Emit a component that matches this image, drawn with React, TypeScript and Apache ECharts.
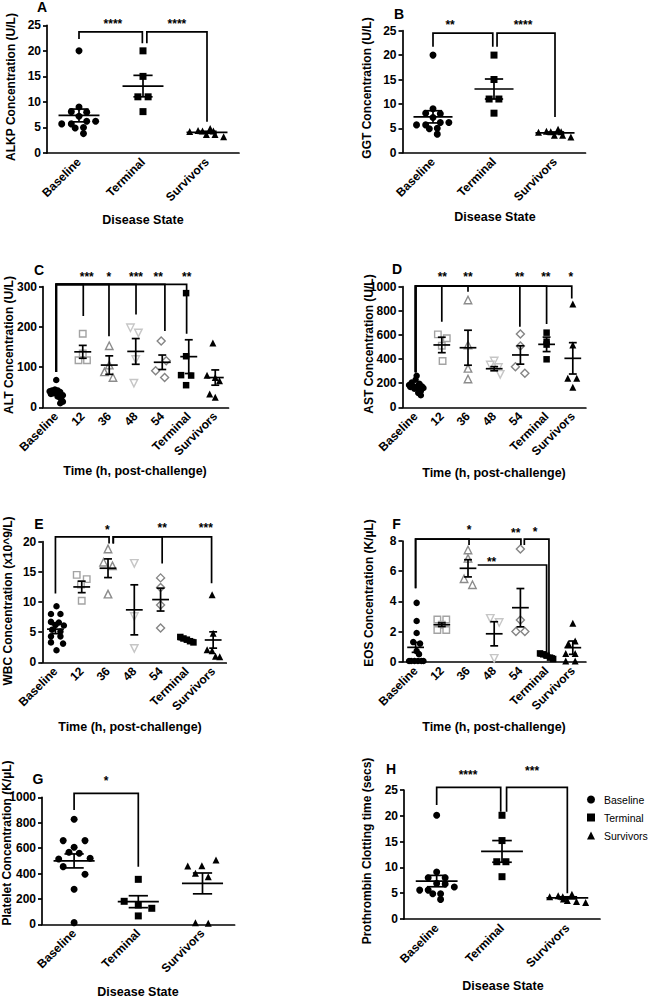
import React, { useEffect, useRef } from "react";
import * as echarts from "echarts";

type Pt = [number, number];
type Star = [number, number, string];

const FONT = "'Liberation Sans', Arial, Helvetica, sans-serif";

// ---------- categories ----------
const stateCats = ["Baseline", "Terminal", "Survivors"];
const timeCats = ["Baseline", "12", "36", "48", "54", "Terminal", "Survivors"];

// ---------- A: ALKP (U/L) ----------  points: [jitter offset, value]
const alkpBaseline: Pt[] = [[0, 20], [0, 9.0], [-0.12, 8.1], [0.12, 8.0], [0, 7.2], [-0.27, 5.7], [-0.12, 5.7], [0.12, 6.2], [0.26, 6.2], [-0.06, 4.9], [0.07, 5.0], [0.07, 3.8]];
const alkpTerminal: Pt[] = [[0, 20], [0, 15], [-0.08, 11], [0.08, 11], [0, 8.1]];
const alkpSurvivors: Pt[] = [[-0.27, 4.2], [-0.14, 4.4], [-0.07, 4.3], [0.05, 4.8], [-0.01, 3.6], [0.125, 3.6], [0.26, 3.2], [0.1, 4.3]];
const alkpMean = [7.35, 13.1, 4.05];
const alkpSem = [1.25, 2.1, 0.2];
const alkpBrackets = [[0, 0.99, 23.7, 22.3, 21.5], [1.06, 2, 23.7, 21.5, 6.1]];
const alkpStars: Star[] = [[0.53, 25.8, "****"], [1.53, 25.8, "****"]];

// ---------- B: GGT (U/L) ----------
const ggtBaseline: Pt[] = [[0, 20], [0, 9.0], [-0.12, 8.1], [0.12, 8.0], [0, 7.2], [-0.27, 5.7], [-0.12, 5.7], [0.12, 6.2], [0.26, 6.2], [-0.06, 4.9], [0.07, 5.0], [0.07, 3.8]];
const ggtTerminal: Pt[] = [[0, 20], [0, 15], [-0.08, 11], [0.08, 11], [0, 8.1]];
const ggtSurvivors: Pt[] = [[-0.27, 4.2], [-0.14, 4.4], [-0.07, 4.3], [0.05, 4.8], [-0.01, 3.6], [0.125, 3.6], [0.26, 3.2], [0.1, 4.3]];
const ggtMean = [7.35, 13.05, 4.05];
const ggtSem = [1.25, 2.05, 0.2];
const ggtBrackets = [[0, 0.98, 24.5, 21.7, 21.7], [1.05, 2, 24.5, 21.7, 7.3]];
const ggtStars: Star[] = [[0.28, 26.8, "**"], [1.475, 26.8, "****"]];

// ---------- C: ALT (U/L) ----------
const altBaseline: Pt[] = [[0, 68], [-0.25, 40], [-0.15, 42], [-0.05, 44], [0.05, 42], [0.15, 38], [-0.2, 33], [-0.1, 35], [0, 36], [0.1, 33], [0.25, 30], [0.05, 27], [0.15, 24], [0.2, 18], [0.25, 14], [0.15, 10]];
const alt12: Pt[] = [[0, 183], [-0.16, 117], [0.16, 117], [0, 134]];
const alt36: Pt[] = [[0, 153], [-0.18, 88], [0.14, 74], [0, 105]];
const alt48: Pt[] = [[-0.2, 198], [0.1, 185], [0, 119], [-0.07, 60]];
const alt54: Pt[] = [[-0.04, 165], [0.15, 116], [-0.25, 91], [0.09, 74]];
const altTerminal: Pt[] = [[-0.1, 284], [-0.1, 127], [-0.29, 80], [0.09, 79], [-0.1, 55]];
const altSurvivors: Pt[] = [[-0.09, 160], [-0.31, 80], [0, 74], [0.16, 66], [-0.21, 33], [0, 25]];
const altMean = [34, 138, 105, 139, 112, 126, 74];
const altSem = [3.5, 16, 23, 32, 18, 42, 19];
const altBrackets = [[0, 1.02, 306, 88, 227], [0, 1.99, 306, 88, 177], [0, 3.01, 306, 88, 231], [0, 4.1, 306, 88, 190], [0, 4.92, 306, 88, 183]];
const altStars: Star[] = [[1.15, 332, "***"], [1.98, 332, "*"], [3.01, 332, "***"], [3.85, 332, "**"], [4.92, 332, "**"]];

// ---------- D: AST (U/L) ----------
const astBaseline: Pt[] = [[0.04, 262], [0, 228], [-0.15, 205], [0.15, 195], [-0.25, 185], [0.1, 182], [-0.1, 176], [0.25, 172], [-0.2, 168], [0.05, 165], [0.3, 160], [-0.05, 155], [0.15, 148], [0.2, 135], [0.1, 120], [0.2, 100]];
const ast12: Pt[] = [[-0.15, 605], [0.19, 572], [0.03, 384], [0, 510]];
const ast36: Pt[] = [[0, 890], [0, 517], [0, 323], [0, 235]];
const ast48: Pt[] = [[0, 384], [-0.15, 351], [0.16, 330], [0.23, 273]];
const ast54: Pt[] = [[0, 608], [0, 508], [-0.19, 337], [0.17, 282]];
const astTerminal: Pt[] = [[0, 619], [0, 544], [0, 520], [0, 398]];
const astSurvivors: Pt[] = [[0, 856], [0, 517], [-0.19, 240], [0.15, 240], [0, 166]];
const astMean = [172, 517, 494, 320, 434, 522, 406];
const astSem = [12, 64, 145, 17, 76, 60, 130];
const astBrackets = [[0, 1.0, 1005, 290, 710], [0, 2.0, 1005, 290, 958], [0, 3.98, 1005, 290, 668], [0, 5.0, 1005, 290, 690], [0, 5.96, 1005, 290, 903]];
const astStars: Star[] = [[1.02, 1105, "**"], [2.0, 1105, "**"], [3.97, 1105, "**"], [4.97, 1105, "**"], [5.92, 1105, "*"]];

// ---------- E: WBC (x10^9/L) ----------
const wbcBaseline: Pt[] = [[0.04, 9.3], [-0.17, 8.0], [0.19, 8.0], [-0.17, 6.7], [0.13, 6.6], [0, 6.2], [0.32, 6.1], [-0.13, 5.4], [0.19, 5.1], [-0.17, 4.3], [0.19, 4.3], [-0.17, 3.3], [0.29, 3.1], [0.04, 2.0]];
const wbc12: Pt[] = [[-0.19, 14.5], [0.19, 13.8], [-0.03, 12.9], [0, 10.2]];
const wbc36: Pt[] = [[0, 18.8], [-0.17, 16.6], [0.17, 16.0], [0, 11.3]];
const wbc48: Pt[] = [[0, 16.4], [0, 7.6], [0, 2.3]];
const wbc54: Pt[] = [[0, 14.0], [0, 12.4], [0, 9.5], [0, 5.7]];
const wbcTerminal: Pt[] = [[-0.25, 4.2], [-0.13, 3.95], [0, 3.75], [0.12, 3.5], [0.25, 3.3]];
const wbcSurvivors: Pt[] = [[-0.04, 11.2], [0, 4.8], [-0.23, 2.1], [-0.04, 1.9], [0.09, 1.0], [0.25, 0.9]];
const wbcMean = [5.5, 12.5, 15.6, 8.7, 10.4, 3.75, 3.7];
const wbcSem = [0.75, 0.95, 1.55, 4.15, 1.9, 0.12, 1.35];
const wbcBrackets = [[0, 2.04, 20.8, 11.4, 19.7], [2.2, 4.06, 20.8, 19.7, 16.4], [2.2, 5.94, 20.8, 19.7, 13.1]];
const wbcStars: Star[] = [[1.97, 22.5, "*"], [4.06, 22.8, "**"], [5.72, 22.8, "***"]];

// ---------- F: EOS (K/µL) ----------
const eosBaseline: Pt[] = [[0.04, 3.9], [0.04, 2.7], [0.04, 1.9], [-0.09, 1.3], [0.17, 1.2], [0.04, 0.7], [0.13, 0.5], [-0.25, 0.05], [-0.17, 0.05], [-0.04, 0.05], [0.09, 0.05], [0.22, 0.05], [0.3, 0.05]];
const eos12: Pt[] = [[-0.17, 2.8], [0.17, 2.8], [0, 2.45], [-0.17, 2.1], [0.17, 2.1]];
const eos36: Pt[] = [[0, 7.4], [0, 6.85], [-0.15, 5.5], [0.17, 5.1]];
const eos48: Pt[] = [[-0.15, 2.87], [0.19, 2.6], [0, 0.22]];
const eos54: Pt[] = [[0, 7.47], [0, 2.76], [-0.17, 2.0], [0.17, 2.0]];
const eosTerminal: Pt[] = [[-0.25, 0.55], [-0.13, 0.49], [0, 0.4], [0.13, 0.27], [0.25, 0.18]];
const eosSurvivors: Pt[] = [[0, 2.55], [0.09, 1.37], [-0.17, 1.2], [-0.27, 0.55], [0.09, 0.55], [-0.27, 0.05], [0.09, 0.05]];
const eosMean = [0.95, 2.45, 6.19, 1.85, 3.58, 0.38, 0.93];
const eosSem = [0.33, 0.12, 0.57, 0.8, 1.27, 0.06, 0.44];
const eosBrackets = [[0, 2.04, 8.13, 4.86, 7.73], [0, 4.02, 8.13, 4.86, 7.73], [4.15, 5.09, 8.13, 7.73, 0.27], [2.37, 5.0, 6.41, 6.41, 0.27]];
const eosStars: Star[] = [[2.04, 8.95, "*"], [3.82, 8.73, "**"], [4.56, 8.78, "*"], [2.9, 6.81, "**"]];

// ---------- G: Platelets (K/µL) ----------
const pltBaseline: Pt[] = [[0, 827], [-0.17, 659], [0.17, 659], [0, 606], [-0.08, 567], [0.08, 560], [-0.24, 514], [0.25, 520], [-0.17, 454], [0.17, 394], [0, 276], [0, 13]];
const pltTerminal: Pt[] = [[0, 354], [-0.22, 181], [0, 152], [0.21, 126], [0, 66]];
const pltSurvivors: Pt[] = [[-0.23, 459], [-0.01, 462], [0.21, 507], [-0.11, 402], [0.09, 375], [-0.11, 13], [0.09, 8]];
const pltMean = [499, 178, 322];
const pltSem = [55, 47, 82];
const pltBrackets = [[0, 1.0, 1031, 900, 454]];
const pltStars: Star[] = [[0.5, 1152, "*"]];

// ---------- H: Prothrombin clotting time (secs) ----------
const ptBaseline: Pt[] = [[0, 20.1], [0, 9.1], [-0.13, 8.0], [0.13, 8.0], [0, 6.9], [-0.26, 5.6], [-0.13, 5.6], [0.13, 6.8], [0.27, 6.2], [-0.06, 4.9], [0.06, 4.9], [0.06, 3.8]];
const ptTerminal: Pt[] = [[0, 20.1], [0, 15.2], [-0.08, 11.1], [0.06, 11.1], [0, 8.2]];
const ptSurvivors: Pt[] = [[-0.27, 4.3], [-0.14, 4.5], [-0.07, 4.3], [0.07, 4.8], [0, 3.6], [0.14, 3.4], [0.28, 3.2], [-0.06, 3.9]];
const ptMean = [7.35, 13.1, 4.1];
const ptSem = [1.1, 2.1, 0.2];
const ptBrackets = [[0, 0.98, 25.5, 22.1, 20.8], [1.07, 2, 25.5, 20.8, 5.0]];
const ptStars: Star[] = [[0.48, 28.5, "****"], [1.46, 29.2, "***"]];

// ---------- marker styles ----------
interface MStyle { symbol: string; size: number; fill: string; stroke: string; rotate?: number; }
const stateStyles: MStyle[] = [
  { symbol: "circle", size: 7, fill: "#000", stroke: "#000" },
  { symbol: "rect", size: 7, fill: "#000", stroke: "#000" },
  { symbol: "triangle", size: 7, fill: "#000", stroke: "#000" },
];
const timeStyles: MStyle[] = [
  { symbol: "circle", size: 6.5, fill: "#000", stroke: "#000" },
  { symbol: "rect", size: 6.5, fill: "#fff", stroke: "#a3a3a3" },
  { symbol: "triangle", size: 7.5, fill: "#fff", stroke: "#8c8c8c" },
  { symbol: "triangle", size: 7.5, fill: "#fff", stroke: "#c6c6c6", rotate: 180 },
  { symbol: "diamond", size: 8, fill: "#fff", stroke: "#858585" },
  { symbol: "rect", size: 6.5, fill: "#000", stroke: "#000" },
  { symbol: "triangle", size: 7, fill: "#000", stroke: "#000" },
];

interface Panel {
  key: string; letter: string; letterPos: [number, number];
  grid: { left: number; top: number; width: number; height: number };
  cats: string[]; groups: Pt[][]; styles: MStyle[];
  mean: number[]; sem: number[]; yMax: number; yInterval: number;
  brackets: number[][]; stars: Star[];
  yTitle: string; yTitlePos: [number, number];
  xTitle: string; xTitlePos: [number, number];
  legendNames?: boolean;
}

const panels: Panel[] = [
  { key: "A", letter: "A", letterPos: [42, 7], grid: { left: 47, top: 25.3, width: 192, height: 127.7 },
    cats: stateCats, groups: [alkpBaseline, alkpTerminal, alkpSurvivors], styles: stateStyles,
    mean: alkpMean, sem: alkpSem, yMax: 25, yInterval: 5, brackets: alkpBrackets, stars: alkpStars,
    yTitle: "ALKP Concentration (U/L)", yTitlePos: [11, 87], xTitle: "Disease State", xTitlePos: [143, 220] },
  { key: "B", letter: "B", letterPos: [399, 14], grid: { left: 402.5, top: 30.7, width: 183, height: 122 },
    cats: stateCats, groups: [ggtBaseline, ggtTerminal, ggtSurvivors], styles: stateStyles,
    mean: ggtMean, sem: ggtSem, yMax: 25, yInterval: 5, brackets: ggtBrackets, stars: ggtStars,
    yTitle: "GGT Concentration (U/L)", yTitlePos: [367, 88], xTitle: "Disease State", xTitlePos: [495, 217] },
  { key: "C", letter: "C", letterPos: [39, 269.5], grid: { left: 43, top: 286.7, width: 185.5, height: 120.6 },
    cats: timeCats, groups: [altBaseline, alt12, alt36, alt48, alt54, altTerminal, altSurvivors], styles: timeStyles,
    mean: altMean, sem: altSem, yMax: 300, yInterval: 100, brackets: altBrackets, stars: altStars,
    yTitle: "ALT Concentration (U/L)", yTitlePos: [9, 345], xTitle: "Time (h, post-challenge)", xTitlePos: [135, 471] },
  { key: "D", letter: "D", letterPos: [397, 269], grid: { left: 402.5, top: 286.7, width: 183.4, height: 120.6 },
    cats: timeCats, groups: [astBaseline, ast12, ast36, ast48, ast54, astTerminal, astSurvivors], styles: timeStyles,
    mean: astMean, sem: astSem, yMax: 1000, yInterval: 200, brackets: astBrackets, stars: astStars,
    yTitle: "AST Concentration (U/L)", yTitlePos: [369, 344], xTitle: "Time (h, post-challenge)", xTitlePos: [494, 472.7] },
  { key: "E", letter: "E", letterPos: [39, 523.5], grid: { left: 42.3, top: 541.7, width: 184, height: 120.6 },
    cats: timeCats, groups: [wbcBaseline, wbc12, wbc36, wbc48, wbc54, wbcTerminal, wbcSurvivors], styles: timeStyles,
    mean: wbcMean, sem: wbcSem, yMax: 20, yInterval: 5, brackets: wbcBrackets, stars: wbcStars,
    yTitle: "WBC Concentration (x10^9/L)", yTitlePos: [8, 601], xTitle: "Time (h, post-challenge)", xTitlePos: [130, 727] },
  { key: "F", letter: "F", letterPos: [396.5, 524], grid: { left: 402.5, top: 541, width: 183.4, height: 120.7 },
    cats: timeCats, groups: [eosBaseline, eos12, eos36, eos48, eos54, eosTerminal, eosSurvivors], styles: timeStyles,
    mean: eosMean, sem: eosSem, yMax: 8, yInterval: 2, brackets: eosBrackets, stars: eosStars,
    yTitle: "EOS Concentration (K/\u00b5L)", yTitlePos: [369, 593], xTitle: "Time (h, post-challenge)", xTitlePos: [494, 727] },
  { key: "G", letter: "G", letterPos: [38, 779], grid: { left: 42, top: 797.3, width: 192.6, height: 127 },
    cats: stateCats, groups: [pltBaseline, pltTerminal, pltSurvivors], styles: stateStyles,
    mean: pltMean, sem: pltSem, yMax: 1000, yInterval: 200, brackets: pltBrackets, stars: pltStars,
    yTitle: "Platelet Concentration (K/\u00b5L)", yTitlePos: [7, 843], xTitle: "Disease State", xTitlePos: [138, 992] },
  { key: "H", letter: "H", letterPos: [391, 769], grid: { left: 404, top: 790, width: 196, height: 129 },
    cats: stateCats, groups: [ptBaseline, ptTerminal, ptSurvivors], styles: stateStyles,
    mean: ptMean, sem: ptSem, yMax: 25, yInterval: 5, brackets: ptBrackets, stars: ptStars,
    yTitle: "Prothrombin Clotting time (secs)", yTitlePos: [367, 851], xTitle: "Disease State", xTitlePos: [503, 986], legendNames: true },
];

const LW = 1.7;

function buildOption() {
  const grids: any[] = [];
  const xAxes: any[] = [];
  const yAxes: any[] = [];
  const series: any[] = [];
  const graphics: any[] = [];

  panels.forEach((p, g) => {
    grids.push({ ...p.grid, containLabel: false });
    xAxes.push({
      type: "category", gridIndex: g, data: p.cats, boundaryGap: true,
      axisLine: { onZero: false, lineStyle: { color: "#000", width: LW } },
      axisTick: { alignWithLabel: true, length: 4, lineStyle: { color: "#000", width: LW } },
      axisLabel: { interval: 0, rotate: 45, margin: 7, color: "#000", fontSize: 12, fontWeight: "bold", fontFamily: FONT },
      splitLine: { show: false },
    });
    xAxes.push({ type: "value", gridIndex: g, min: -0.5, max: p.cats.length - 0.5, show: false, axisLine: { onZero: false } });
    yAxes.push({
      type: "value", gridIndex: g, min: 0, max: p.yMax, interval: p.yInterval,
      axisLine: { show: true, onZero: false, lineStyle: { color: "#000", width: LW } },
      axisTick: { show: true, length: 4, lineStyle: { color: "#000", width: LW } },
      axisLabel: { margin: 6, color: "#000", fontSize: 12, fontWeight: "bold", fontFamily: FONT, formatter: (v: number) => String(v) },
      splitLine: { show: false },
    });
    const xi = 2 * g + 1;
    p.groups.forEach((pts, i) => {
      const st = p.styles[i];
      series.push({
        type: "scatter",
        name: p.legendNames ? p.cats[i] : p.key + "-" + p.cats[i],
        xAxisIndex: xi, yAxisIndex: g, silent: true, z: 2,
        symbol: st.symbol, symbolSize: st.size, symbolRotate: st.rotate || 0,
        itemStyle: { color: st.fill, borderColor: st.stroke, borderWidth: st.fill === "#fff" ? 1.4 : 0, opacity: 1 },
        data: pts.map(([o, v]) => [i + o, v]),
      });
    });
    // mean ± SEM
    const means = p.mean;
    const sems = p.sem;
    series.push({
      type: "custom", xAxisIndex: xi, yAxisIndex: g, silent: true, z: 3, clip: false,
      data: means.map((m, i) => [i, m]),
      renderItem: (params: any, api: any) => {
        const i = params.dataIndex;
        const x = i, m = means[i], s = sems[i];
        const ln = (a: number[], b: number[]) => {
          const p1 = api.coord(a), p2 = api.coord(b);
          return { type: "line", shape: { x1: p1[0], y1: p1[1], x2: p2[0], y2: p2[1] }, style: { stroke: "#000", lineWidth: LW } };
        };
        return {
          type: "group",
          children: [
            ln([x - 0.32, m], [x + 0.32, m]),
            ln([x, m - s], [x, m + s]),
            ln([x - 0.15, m + s], [x + 0.15, m + s]),
            ln([x - 0.15, m - s], [x + 0.15, m - s]),
          ],
        };
      },
    });
    // significance brackets
    const brs = p.brackets;
    series.push({
      type: "custom", xAxisIndex: xi, yAxisIndex: g, silent: true, z: 4, clip: false,
      data: brs.map((b) => [b[0], b[2]]),
      renderItem: (params: any, api: any) => {
        const b = brs[params.dataIndex];
        const x1 = b[0], x2 = b[1], top = b[2], y1 = b[3], y2 = b[4];
        const pts = [api.coord([x1, y1]), api.coord([x1, top]), api.coord([x2, top]), api.coord([x2, y2])];
        return { type: "polyline", shape: { points: pts }, style: { stroke: "#000", lineWidth: LW, fill: "none" } };
      },
    });
    // stars
    const stars = p.stars;
    series.push({
      type: "custom", xAxisIndex: xi, yAxisIndex: g, silent: true, z: 5, clip: false,
      data: stars.map((s) => [s[0], s[1]]),
      renderItem: (params: any, api: any) => {
        const s = stars[params.dataIndex];
        const c = api.coord([s[0], s[1]]);
        return {
          type: "text", x: c[0], y: c[1] + 3,
          style: { text: s[2], fill: "#000", fontSize: 12, fontWeight: "bold", fontFamily: FONT, align: "center", verticalAlign: "middle" },
        };
      },
    });

    graphics.push({
      type: "text", x: p.letterPos[0], y: p.letterPos[1], silent: true,
      style: { text: p.letter, fill: "#000", fontSize: 14, fontWeight: "bold", fontFamily: FONT, align: "center", verticalAlign: "middle" },
    });
    graphics.push({
      type: "text", x: p.yTitlePos[0], y: p.yTitlePos[1], rotation: Math.PI / 2, silent: true,
      style: { text: p.yTitle, fill: "#000", fontSize: 12, fontWeight: "bold", fontFamily: FONT, align: "center", verticalAlign: "middle" },
    });
    graphics.push({
      type: "text", x: p.xTitlePos[0], y: p.xTitlePos[1], silent: true,
      style: { text: p.xTitle, fill: "#000", fontSize: 12.5, fontWeight: "bold", fontFamily: FONT, align: "center", verticalAlign: "middle" },
    });
  });

  return {
    animation: false,
    backgroundColor: "#fff",
    grid: grids,
    xAxis: xAxes,
    yAxis: yAxes,
    series,
    graphic: graphics,
    legend: {
      data: stateCats, orient: "vertical", left: 582, top: 789, selectedMode: false,
      itemWidth: 8, itemHeight: 8, itemGap: 7, symbolKeepAspect: true,
      textStyle: { color: "#000", fontSize: 10.5, fontFamily: FONT, padding: [0, 0, 0, 4] },
    },
  };
}

export default function App() {
  const ref = useRef<HTMLDivElement>(null);
  useEffect(() => {
    const chart = echarts.init(ref.current as HTMLDivElement, null, { renderer: "svg" });
    chart.setOption(buildOption() as any);
    return () => chart.dispose();
  }, []);
  return <div ref={ref} style={{ position: "absolute", left: 0, top: 0, width: 648, height: 998, background: "#fff" }} />;
}
